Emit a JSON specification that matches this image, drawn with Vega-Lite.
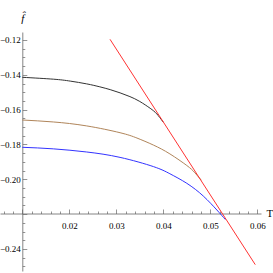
{
  "$schema": "https://vega.github.io/schema/vega-lite/v6.json",
  "width": 273,
  "height": 273,
  "autosize": "none",
  "padding": 0,
  "background": "white",
  "config": {"view": {"stroke": null}},
  "data": {"values": [
    {"s": "black", "T": 0.0100, "f": -0.14142},
    {"s": "black", "T": 0.0166, "f": -0.14250},
    {"s": "black", "T": 0.0202, "f": -0.14360},
    {"s": "black", "T": 0.0237, "f": -0.14520},
    {"s": "black", "T": 0.0265, "f": -0.14690},
    {"s": "black", "T": 0.0287, "f": -0.14850},
    {"s": "black", "T": 0.0308, "f": -0.15035},
    {"s": "black", "T": 0.0329, "f": -0.15250},
    {"s": "black", "T": 0.0350, "f": -0.15530},
    {"s": "black", "T": 0.0372, "f": -0.15920},
    {"s": "black", "T": 0.0386, "f": -0.16240},
    {"s": "black", "T": 0.0400, "f": -0.16720},
    {"s": "brown", "T": 0.0100, "f": -0.16594},
    {"s": "brown", "T": 0.0166, "f": -0.16706},
    {"s": "brown", "T": 0.0237, "f": -0.16933},
    {"s": "brown", "T": 0.0308, "f": -0.17324},
    {"s": "brown", "T": 0.0344, "f": -0.17630},
    {"s": "brown", "T": 0.0379, "f": -0.18033},
    {"s": "brown", "T": 0.0414, "f": -0.18540},
    {"s": "brown", "T": 0.0450, "f": -0.19206},
    {"s": "brown", "T": 0.0466, "f": -0.19590},
    {"s": "brown", "T": 0.0481, "f": -0.20055},
    {"s": "blue", "T": 0.0100, "f": -0.18161},
    {"s": "blue", "T": 0.0166, "f": -0.18250},
    {"s": "blue", "T": 0.0237, "f": -0.18431},
    {"s": "blue", "T": 0.0308, "f": -0.18740},
    {"s": "blue", "T": 0.0379, "f": -0.19270},
    {"s": "blue", "T": 0.0414, "f": -0.19680},
    {"s": "blue", "T": 0.0450, "f": -0.20229},
    {"s": "blue", "T": 0.0485, "f": -0.20958},
    {"s": "blue", "T": 0.0514, "f": -0.21762},
    {"s": "blue", "T": 0.0532, "f": -0.22307},
    {"s": "red", "T": 0.02866, "f": -0.1196},
    {"s": "red", "T": 0.05957, "f": -0.2490}
  ]},
  "mark": {"type": "line", "strokeWidth": 1, "interpolate": "natural"},
  "encoding": {
    "x": {
      "field": "T", "type": "quantitative",
      "scale": {"domain": [0.005255, 0.060787], "range": [0, 261], "nice": false, "zero": false},
      "axis": {
        "orient": "bottom",
        "offset": -59.5,
        "title": "T",
        "titleFont": "Liberation Serif",
        "titleFontWeight": "normal",
        "titleFontSize": 11,
        "titleColor": "black",
        "titleX": 266,
        "titleY": 0,
        "titleAlign": "left",
        "titleBaseline": "middle",
        "titleAngle": 0,
        "domainColor": "#666666",
        "domainWidth": 0.8,
        "tickColor": "#666666",
        "tickWidth": 0.7,
        "tickSize": {"condition": {"test": "abs(datum.value*100 - round(datum.value*100)) < 1e-6", "value": -4.5}, "value": -2.5},
        "values": [0.006, 0.008, 0.010, 0.012, 0.014, 0.016, 0.018, 0.020, 0.022, 0.024, 0.026, 0.028, 0.030, 0.032, 0.034, 0.036, 0.038, 0.040, 0.042, 0.044, 0.046, 0.048, 0.050, 0.052, 0.054, 0.056, 0.058, 0.060],
        "labelExpr": "(abs(datum.value*100 - round(datum.value*100)) < 1e-6 && abs(datum.value - 0.01) > 1e-6) ? format(datum.value, '.2f') : ''",
        "labelFont": "Liberation Serif",
        "labelFontSize": 9,
        "labelColor": "black",
        "labelPadding": 12,
        "labelBaseline": "top",
        "labelFlush": false,
        "labelOverlap": false,
        "grid": false
      }
    },
    "y": {
      "field": "f", "type": "quantitative",
      "scale": {"domain": [-0.25264, -0.11541], "range": [271, 32], "nice": false, "zero": false},
      "axis": {
        "orient": "left",
        "offset": -22.3,
        "title": "f\u0302",
        "titleFont": "Liberation Serif",
        "titleFontStyle": "italic",
        "titleFontWeight": "normal",
        "titleFontSize": 11,
        "titleColor": "black",
        "titleAngle": 0,
        "titleX": 0,
        "titleY": 21,
        "titleAlign": "center",
        "titleBaseline": "alphabetic",
        "domainColor": "#666666",
        "domainWidth": 0.8,
        "tickColor": "#666666",
        "tickWidth": 0.7,
        "tickSize": {"condition": {"test": "abs(datum.value*50 - round(datum.value*50)) < 1e-6", "value": -4.5}, "value": -2.5},
        "values": [-0.25, -0.245, -0.24, -0.235, -0.23, -0.225, -0.22, -0.215, -0.21, -0.205, -0.2, -0.195, -0.19, -0.185, -0.18, -0.175, -0.17, -0.165, -0.16, -0.155, -0.15, -0.145, -0.14, -0.135, -0.13, -0.125, -0.12],
        "labelExpr": "(abs(datum.value*50 - round(datum.value*50)) < 1e-6 && abs(datum.value + 0.22) > 1e-6) ? format(datum.value, '.2f') : ''",
        "labelFont": "Liberation Serif",
        "labelFontSize": 9,
        "labelColor": "black",
        "labelPadding": 6.5,
        "labelFlush": false,
        "labelOverlap": false,
        "grid": false
      }
    },
    "color": {
      "field": "s", "type": "nominal",
      "scale": {"domain": ["black", "brown", "blue", "red"], "range": ["#333333", "#B0855A", "#3333FF", "#FF3333"]},
      "legend": null
    }
  }
}
